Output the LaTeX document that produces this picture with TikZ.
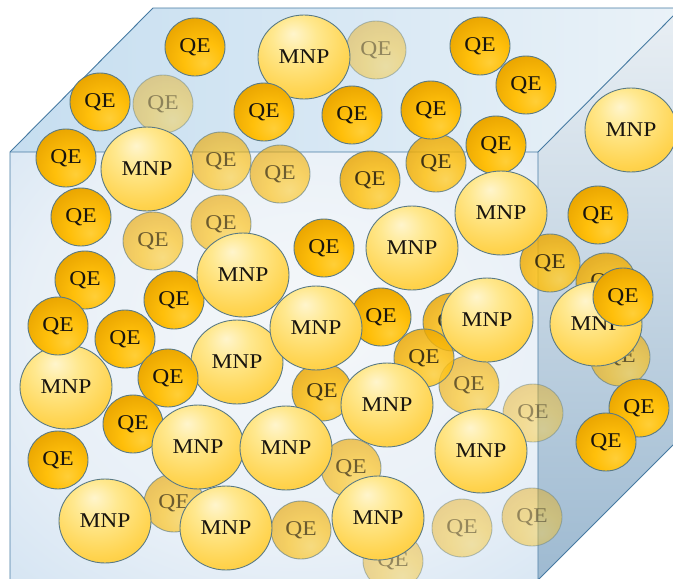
\documentclass[tikz,border=0pt]{standalone}
\usepackage{fontspec}
\setmainfont{Liberation Serif}
\newfontfamily\ballfont[FakeStretch=1.12]{Liberation Serif}
\usetikzlibrary{shapes.geometric}

\definecolor{ballrim}{RGB}{90,122,132}
\definecolor{ink}{RGB}{24,20,14}
\definecolor{cubeline}{RGB}{70,122,162}
\definecolor{topL}{RGB}{198,222,240}
\definecolor{topR}{RGB}{234,242,248}
\definecolor{sideT}{RGB}{233,239,244}
\definecolor{sideB}{RGB}{158,186,209}

% ball shadings: QE lit from below right, MNP pale on top
\pgfdeclareradialshading{qeshade}{\pgfpoint{8bp}{-14bp}}{rgb(0bp)=(1,0.81,0.22); rgb(16bp)=(1,0.75,0.04); rgb(36bp)=(0.91,0.64,0.0); rgb(52bp)=(0.81,0.56,0.0); rgb(80bp)=(0.78,0.53,0.0)}
\pgfdeclareradialshading{mnpshade}{\pgfpoint{-6bp}{14bp}}{rgb(0bp)=(1,0.96,0.80); rgb(12bp)=(1,0.91,0.56); rgb(30bp)=(1,0.83,0.31); rgb(48bp)=(0.97,0.75,0.13); rgb(80bp)=(0.94,0.70,0.07)}
\pgfdeclareradialshading{frontglow}{\pgfpoint{4bp}{6bp}}{rgb(0bp)=(0.96,0.97,0.98); rgb(26bp)=(0.91,0.94,0.97); rgb(48bp)=(0.79,0.87,0.94); rgb(80bp)=(0.72,0.83,0.92)}

\tikzset{
  ball/.style={ellipse, inner sep=0pt, draw=ballrim, line width=0.9pt, shade,
    text=ink, font=\ballfont\fontsize{21}{21}\selectfont},
  qe/.style={ball, minimum width=60pt, minimum height=58pt, shading=qeshade},
  mnp/.style={ball, minimum width=92pt, minimum height=84pt, shading=mnpshade},
  near/.style={opacity=0.82},
  middle/.style={opacity=0.62},
  far/.style={opacity=0.42},
  cubeedge/.style={draw=cubeline, line width=0.9pt, line join=miter}
}

\begin{document}
\begin{tikzpicture}[x=1pt,y=-1pt]
\useasboundingbox (0,0) rectangle (673,579);
\clip (0,0) rectangle (673,579);
\fill[white] (0,0) rectangle (673,579);

% cube corners
\coordinate (FTL) at (10,152);
\coordinate (FTR) at (538,152);
\coordinate (FBL) at (10,580);
\coordinate (FBR) at (538,580);
\coordinate (BTL) at (153,8);
\coordinate (BTR) at (681,8);
\coordinate (BBR) at (681,437);

% faces
\shade[left color=topL, right color=topR] (FTL) -- (BTL) -- (BTR) -- (FTR) -- cycle;
\shade[top color=sideT, bottom color=sideB] (FTR) -- (BTR) -- (BBR) -- (FBR) -- cycle;
\shade[shading=frontglow] (FTL) -- (FTR) -- (FBR) -- (FBL) -- cycle;

% edges
\draw[cubeedge] (FBL) -- (FTL) -- (BTL) -- (BTR);
\draw[cubeedge] (FTL) -- (FTR) -- (FBR) -- (BBR);
\draw[cubeedge] (FTR) -- (BTR);

% far particles
\node[qe,far] (f1) at (376,50) {QE};
\node[qe,far] (f2) at (163,104) {QE};
\node[qe,far] (f3) at (533,413) {QE};
\node[qe,far] (f4) at (462,528) {QE};
\node[qe,far] (f5) at (532,517) {QE};
\node[qe,far] (f6) at (393,561) {QE};

% middle particles
\node[qe,middle] (g1) at (221,161) {QE};
\node[qe,middle] (g2) at (280,174) {QE};
\node[qe,middle] (g3) at (221,224) {QE};
\node[qe,middle] (g4) at (153,241) {QE};
\node[qe,middle] (g5) at (620,357) {QE};
\node[qe,middle] (g6) at (469,385) {QE};
\node[qe,middle] (g7) at (351,468) {QE};
\node[qe,middle] (g8) at (174,503) {QE};
\node[qe,middle] (g9) at (301,530) {QE};

% near particles
\node[qe,near] (h1) at (370,180) {QE};
\node[qe,near] (h2) at (436,163) {QE};
\node[qe,near] (h3) at (550,263) {QE};
\node[qe,near] (h4) at (606,282) {QE};
\node[qe,near] (h5) at (453,322) {QE};
\node[qe,near] (h6) at (424,358) {QE};
\node[qe,near] (h7) at (322,392) {QE};

% front particles
\node[mnp] (m1) at (304,57) {MNP};
\node[qe] (a1) at (195,47) {QE};
\node[qe] (a2) at (480,46) {QE};
\node[qe] (a3) at (526,85) {QE};
\node[qe] (a4) at (100,102) {QE};
\node[qe] (a5) at (264,112) {QE};
\node[qe] (a6) at (352,115) {QE};
\node[qe] (a7) at (431,110) {QE};
\node[qe] (a8) at (496,145) {QE};
\node[mnp] (m2) at (631,130) {MNP};
\node[mnp] (m3) at (147,169) {MNP};
\node[qe] (a9) at (66,158) {QE};
\node[qe] (a10) at (81,217) {QE};
\node[mnp] (m4) at (501,213) {MNP};
\node[mnp] (m5) at (412,248) {MNP};
\node[qe] (a13) at (598,215) {QE};
\node[qe] (a11) at (324,248) {QE};
\node[qe] (a12) at (85,280) {QE};
\node[qe] (a18) at (174,300) {QE};
\node[mnp] (m6) at (243,275) {MNP};
\node[mnp] (m9) at (66,387) {MNP};
\node[qe] (a17) at (58,326) {QE};
\node[qe] (a23) at (125,339) {QE};
\node[mnp] (m10) at (237,362) {MNP};
\node[qe] (a19) at (168,378) {QE};
\node[qe] (a22) at (381,317) {QE};
\node[mnp] (m7) at (316,328) {MNP};
\node[mnp] (m8) at (487,320) {MNP};
\node[qe] (a20) at (133,424) {QE};
\node[mnp] (m11) at (387,405) {MNP};
\node[mnp] (m12) at (198,447) {MNP};
\node[mnp] (m13) at (286,448) {MNP};
\node[qe] (a21) at (58,460) {QE};
\node[mnp] (m14) at (481,451) {MNP};
\node[mnp] (m15) at (105,521) {MNP};
\node[mnp] (m16) at (226,528) {MNP};
\node[mnp] (m17) at (378,518) {MNP};
\node[mnp] (m18) at (596,324) {MNP};
\node[qe] (a14) at (623,297) {QE};
\node[qe] (a15) at (639,408) {QE};
\node[qe] (a16) at (606,442) {QE};
\end{tikzpicture}
\end{document}
